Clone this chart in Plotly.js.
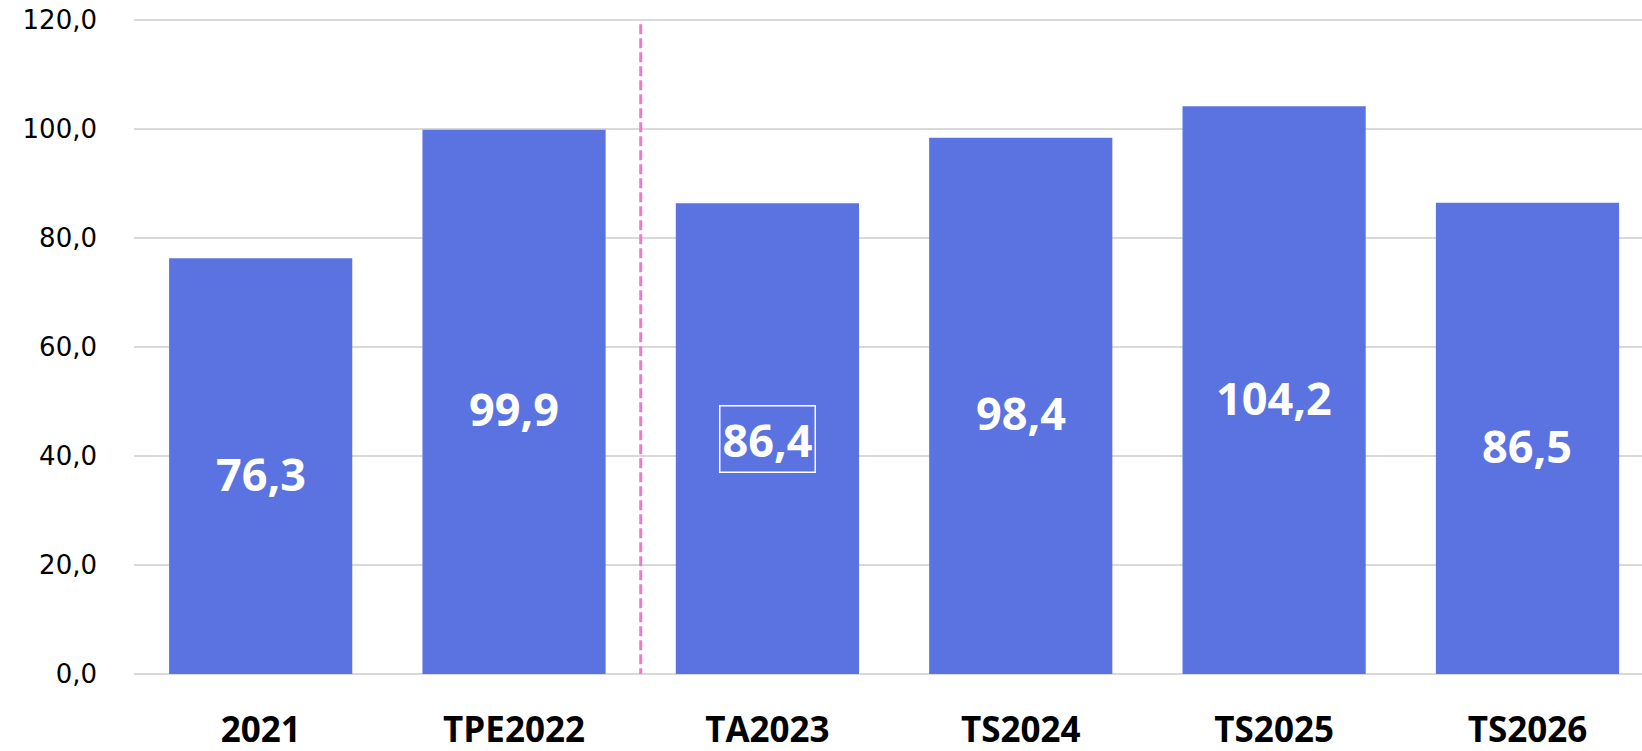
<!DOCTYPE html>
<html><head><meta charset="utf-8">
<script src="https://cdn.plot.ly/plotly-3.0.1.min.js"></script>
<style>html,body{margin:0;padding:0;background:#fff;}#chart{width:1642px;height:751px;}</style>
</head><body><div id="chart"></div>
<script>
const categories = ['2021','TPE2022','TA2023','TS2024','TS2025','TS2026'];
const values = [76.3, 99.9, 86.4, 98.4, 104.2, 86.5];
const boxedIndex = 2;
const dividerAfter = 1.5;
const yTicks = [0,20,40,60,80,100,120];

function fmt(v){ return v.toFixed(1).replace('.', ','); }

const idx = categories.map((c,i)=>i);

const trace = {
  type:'bar', x:idx, y:values,
  marker:{color:'#5B73E0'},
  hoverinfo:'skip'
};

const annotations = values.map((v,i)=>({
  x:i, y:v/2, xref:'x', yref:'y',
  text:fmt(v), showarrow:false,
  yshift: i===boxedIndex ? 0 : -7,
  font:{family:'"Open Sans", Lato, sans-serif', size:45, color:'#ffffff', weight:700},
  bordercolor: i===boxedIndex ? '#ffffff' : 'rgba(0,0,0,0)',
  borderwidth: i===boxedIndex ? 1.5 : 0,
  borderpad: i===boxedIndex ? 2 : 0
}));

const layout = {
  width:1642, height:751,
  margin:{l:134, r:0, t:18, b:77},
  paper_bgcolor:'#ffffff', plot_bgcolor:'#ffffff',
  bargap:0.277,
  showlegend:false,
  xaxis:{
    type:'linear', range:[-0.5, 5.452],
    tickvals:idx, ticktext:categories,
    showgrid:false, zeroline:false, showline:false,
    ticks:'', ticklabelstandoff:32,
    tickfont:{family:'"Open Sans", Lato, sans-serif', size:35, color:'#000', weight:700}
  },
  yaxis:{
    range:[0,120.4], tickvals:yTicks, ticktext:yTicks.map(fmt),
    showgrid:true, gridcolor:'#d9d9d9', gridwidth:1.5,
    zeroline:true, zerolinecolor:'#d9d9d9', zerolinewidth:1.5,
    showline:false, ticks:'', ticklabelstandoff:36,
    tickfont:{family:'"DejaVu Sans", sans-serif', size:26, color:'#000'}
  },
  shapes:[{
    type:'line', xref:'x', yref:'y', x0:dividerAfter, x1:dividerAfter, y0:-0.8, y1:120,
    line:{color:'#F07AC8', width:3, dash:'10px,4px'}
  }],
  annotations:annotations
};

Plotly.newPlot('chart',[trace],layout,{displayModeBar:false,staticPlot:true});
</script></body></html>
